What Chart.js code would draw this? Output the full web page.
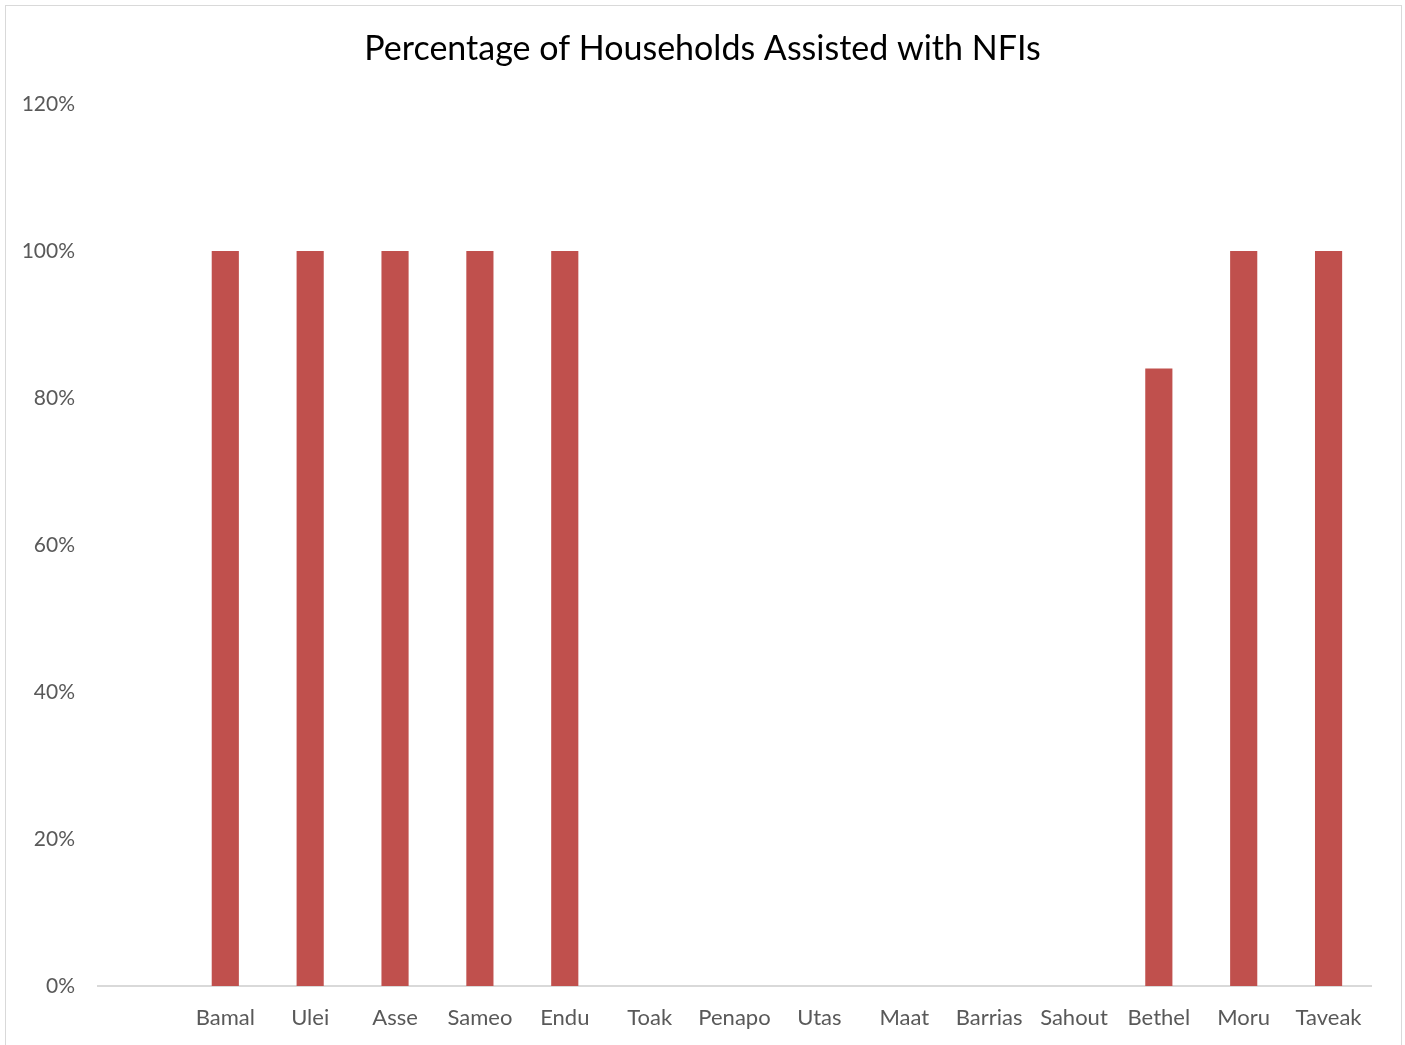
<!DOCTYPE html>
<html>
<head>
<meta charset="utf-8">
<script src="https://cdn.jsdelivr.net/npm/chart.js@4/dist/chart.umd.min.js"></script>
<style>
  body { margin: 0; background: #fff; }
  #wrap { position: relative; width: 1405px; height: 1045px; }
  #frame { position: absolute; left: 5px; top: 5px; width: 1395px; height: 1060px; border: 1px solid #d9d9d9; pointer-events: none; }
</style>
</head>
<body>
<div id="wrap">
  <canvas id="myChart" width="1405" height="1045"></canvas>
  <div id="frame"></div>
</div>
<script>
const villages = ["", "Bamal", "Ulei", "Asse", "Sameo", "Endu", "Toak", "Penapo", "Utas", "Maat", "Barrias", "Sahout", "Bethel", "Moru", "Taveak"];
const assistedPct = [null, 100, 100, 100, 100, 100, 0, 0, 0, 0, 0, 0, 84, 100, 100];
const yTicks = [0, 20, 40, 60, 80, 100, 120];

const fontName = "Lato, 'Noto Sans', sans-serif";

const ctx = document.getElementById("myChart");
new Chart(ctx, {
  type: "bar",
  data: {
    labels: villages,
    datasets: [
      {
        label: "Households Assisted",
        data: assistedPct,
        backgroundColor: "#c0504d",
        borderWidth: 0,
        barPercentage: 0.32,
        categoryPercentage: 1,
      },
    ],
  },
  options: {
    responsive: false,
    animation: false,
    layout: { padding: 0 },
    plugins: {
      legend: { display: false },
      tooltip: { enabled: false },
      title: {
        display: true,
        text: "Percentage of Households Assisted with NFIs",
        color: "#000",
        font: { family: fontName, size: 34, weight: "normal", lineHeight: 1.2 },
        padding: { top: 28.6, bottom: 34.6 },
      },
    },
    scales: {
      x: {
        grid: { display: false, drawTicks: false },
        border: { display: true, color: "#d9d9d9", width: 2 },
        ticks: {
          color: "#595959",
          font: { family: fontName, size: 22 },
          padding: 19,
          maxRotation: 0,
          autoSkip: false,
        },
        afterFit: (scale) => { scale.height = 59; },
      },
      y: {
        min: 0,
        max: 120,
        afterBuildTicks: (scale) => { scale.ticks = yTicks.map((v) => ({ value: v })); },
        grid: { display: false, drawTicks: false },
        border: { display: false },
        ticks: {
          color: "#595959",
          font: { family: fontName, size: 21 },
          padding: 23,
          callback: (v) => v + "%",
        },
        afterFit: (scale) => { scale.width = 98; },
      },
      // empty right-hand axis, only to leave the right margin so the title stays centred
      yRight: {
        position: "right",
        grid: { display: false, drawTicks: false },
        border: { display: false },
        ticks: { display: false },
        afterFit: (scale) => { scale.width = 34; },
      },
    },
  },
});
</script>
</body>
</html>
